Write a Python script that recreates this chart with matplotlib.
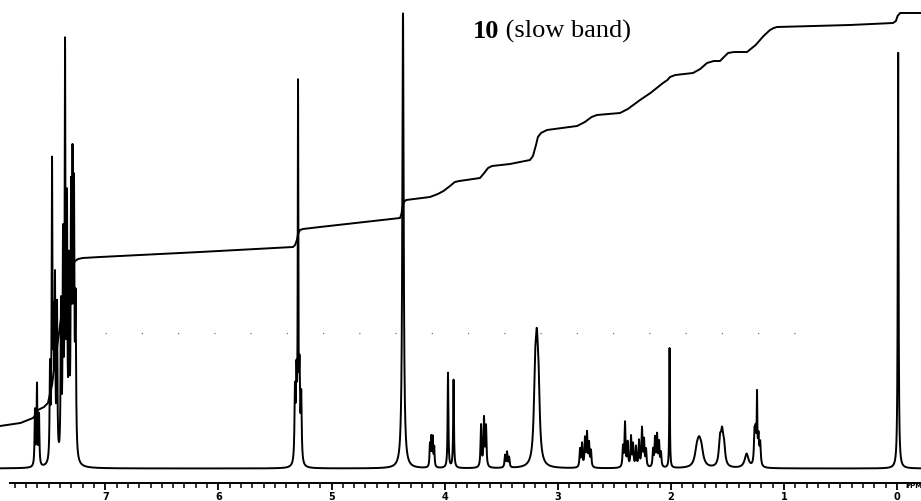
import numpy as np
import matplotlib.pyplot as plt

# --- peak table: (shift ppm, height, half width ppm) ---
PEAK_PPM = [
    7.622, 7.604, 7.586,
    7.489, 7.471, 7.458, 7.445, 7.427, 7.392, 7.374, 7.356, 7.339, 7.321, 7.303, 7.290,
    7.277, 7.263,
    5.323, 5.310, 5.296, 5.283, 5.268,
    4.368,
    4.130, 4.118, 4.105, 4.092,
    3.970, 3.921,
    3.678, 3.652, 3.634,
    3.466, 3.448, 3.430,
    3.200, 3.185, 3.170,
    2.803, 2.785, 2.759, 2.741, 2.723, 2.706,
    2.423, 2.405, 2.382, 2.352, 2.334, 2.308, 2.281, 2.255, 2.237, 2.219,
    2.157, 2.140, 2.122, 2.104, 2.087,
    2.011,
    1.770, 1.750, 1.730,
    1.565, 1.547, 1.530,
    1.330,
    1.260, 1.250, 1.238, 1.225, 1.210,
    -0.010,
]
PEAK_HEIGHT = [
    55, 80, 50,
    90, 290, 120, 170, 150, 150, 210, 400, 240, 180, 245, 270,
    245, 150,
    70, 80, 365, 85, 65,
    455,
    22, 28, 28, 19,
    95, 88,
    42, 48, 40,
    12, 15, 10,
    70, 84, 62,
    18, 23, 28, 33, 23, 16,
    20, 44, 24, 30, 22, 20, 26, 38, 26, 17,
    17, 28, 31, 24, 14,
    120,
    14, 18, 14,
    24, 28, 18,
    14,
    30, 30, 64, 28, 22,
    416,
]
PEAK_WIDTH = [
    0.004, 0.004, 0.004,
    0.004, 0.004, 0.004, 0.004, 0.004, 0.004, 0.004, 0.004, 0.004, 0.004, 0.004, 0.004,
    0.004, 0.005,
    0.005, 0.005, 0.003, 0.005, 0.005,
    0.007,
    0.004, 0.004, 0.004, 0.004,
    0.004, 0.004,
    0.005, 0.005, 0.005,
    0.005, 0.005, 0.005,
    0.013, 0.013, 0.013,
    0.005, 0.005, 0.005, 0.005, 0.005, 0.005,
    0.005, 0.005, 0.005, 0.005, 0.005, 0.005, 0.005, 0.005, 0.005, 0.005,
    0.005, 0.005, 0.005, 0.005, 0.005,
    0.003,
    0.02, 0.02, 0.02,
    0.012, 0.012, 0.012,
    0.02,
    0.006, 0.006, 0.003, 0.006, 0.006,
    0.004,
]

# --- integral trace ---
INT_PPM = [7.931, 7.750, 7.639, 7.610, 7.595, 7.542, 7.507, 7.471, 7.445, 7.409,
           7.374, 7.339, 7.303, 7.268, 7.240, 7.200, 7.047, 6.163, 5.340, 5.322,
           5.306, 5.296, 5.279, 5.252, 5.102, 4.394, 4.382, 4.372, 4.359, 4.341,
           4.129, 4.060, 4.010, 3.952, 3.910, 3.870, 3.687, 3.650, 3.616, 3.580,
           3.422, 3.245, 3.219, 3.192, 3.175, 3.148, 3.095, 2.829, 2.760, 2.700,
           2.653, 2.449, 2.380, 2.272, 2.180, 2.069, 2.030, 2.007, 1.960, 1.804,
           1.740, 1.680, 1.620, 1.565, 1.530, 1.494, 1.440, 1.326, 1.250, 1.180,
           1.123, 1.090, 1.061, 0.416, 0.035, 0.010, -0.005, -0.027, -0.212]
INT_HEIGHT = [41, 44, 49, 53, 57, 60, 64, 82, 105, 134,
              164, 185, 199, 206, 208, 209, 210, 215, 220, 222,
              227, 233, 237, 238, 240, 249, 253, 260, 265, 267,
              270, 273, 276, 281, 285, 286, 289, 294, 299, 301,
              303, 307, 311, 322, 330, 334, 337, 341, 345, 350,
              352, 354, 358, 367, 374, 384, 387, 390, 392, 394,
              398, 404, 406, 406, 410, 414, 415, 415, 422, 431,
              437, 439, 440, 442, 444, 446, 451, 454, 454]

MAJOR_TICKS = [7, 6, 5, 4, 3, 2, 1, 0]
MAJOR_LABELS = ["7", "6", "5", "4", "3", "2", "1", "0"]
TITLE_NUM = "10"
TITLE_REST = " (slow band)"

XMAX, XMIN = 7.931, -0.212

fig = plt.figure(figsize=(9.21, 5.01), dpi=100)
ax = fig.add_axes([0, 18 / 501, 1, 483 / 501])

# spectrum as sum of lorentzian lines from the peak table
ppm = np.linspace(XMAX, XMIN, 24000)
spec = np.zeros_like(ppm)
for p, h, w in zip(PEAK_PPM, PEAK_HEIGHT, PEAK_WIDTH):
    spec += h / (1 + ((ppm - p) / w) ** 2)
spec -= 1.5

ax.plot(ppm, spec, color="black", lw=1.4, solid_joinstyle="round")
ax.plot(INT_PPM, INT_HEIGHT, color="black", lw=1.4, solid_joinstyle="round")

# faint dotted print artefact across the middle
ax.plot([7.0, 0.6], [134, 134], color="0.45", lw=0.9, ls=(0, (1, 28)))

ax.set_xlim(XMAX, XMIN)
ax.set_ylim(-16, 467)

for s in ["top", "left", "right"]:
    ax.spines[s].set_visible(False)
ax.spines["bottom"].set_bounds(7.84, XMIN)
ax.spines["bottom"].set_linewidth(1.4)
ax.set_yticks([])

ax.set_xticks(MAJOR_TICKS)
ax.set_xticklabels(MAJOR_LABELS, fontsize=7, fontweight="bold")
minor = [round(v / 10, 1) for v in range(-1, 79) if v % 10 != 0]
ax.set_xticks(minor, minor=True)
ax.tick_params(axis="x", which="major", direction="out", length=5, width=1.3, pad=1.5)
ax.tick_params(axis="x", which="minor", direction="out", length=3.5, width=1.1)
ax.text(-0.15, -16, "PPM", fontsize=5, fontweight="bold", ha="center", va="top",
        transform=ax.transData, clip_on=False)

# title: bold number followed by regular text
t1 = ax.text(3.749, 429, TITLE_NUM, fontsize=19, fontweight="bold",
             family="Liberation Serif", ha="left", va="baseline")
ax.annotate(TITLE_REST, xy=(1, 0), xycoords=t1, fontsize=19,
            family="Liberation Serif", ha="left", va="bottom")

fig.savefig("out.png", dpi=100)
